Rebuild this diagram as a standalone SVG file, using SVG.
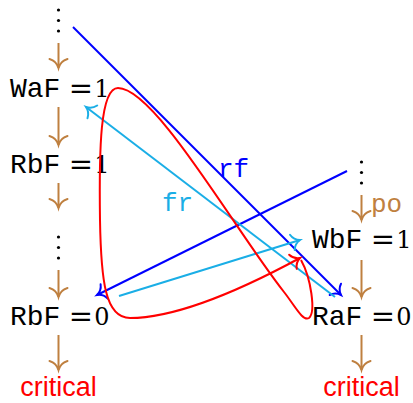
<svg xmlns="http://www.w3.org/2000/svg" width="413" height="403" viewBox="0 0 413 403">
<defs>
<style>
.tt{font-family:"Liberation Mono","DejaVu Sans Mono",monospace;font-size:28px;fill:#000}
.rm{font-family:"DejaVu Serif","Liberation Serif",serif;font-size:24px;fill:#000;text-anchor:middle}
.eq{font-family:"DejaVu Serif","Liberation Serif",serif;font-size:29px;fill:#000;text-anchor:middle}
.lab{font-family:"Liberation Mono","DejaVu Sans Mono",monospace;font-size:26px}
.crit{font-family:"Liberation Sans","DejaVu Sans",sans-serif;font-size:27px;fill:#ff0000;text-anchor:middle}
.po{stroke:#bf8040;stroke-width:2;fill:none;marker-end:url(#mBrown)}
.e{fill:none;stroke-width:2}
.blue{stroke:#0000ff;marker-end:url(#mBlue)}
.cyan{stroke:#1aaee6;marker-end:url(#mCyan)}
.red{stroke:#ff0000;marker-end:url(#mRed)}
.dot{fill:#000}
</style>
<marker id="mBrown" markerUnits="userSpaceOnUse" orient="auto" markerWidth="24" markerHeight="24" refX="0" refY="0" viewBox="-12 -12 24 24" overflow="visible"><path d="M -9,-9 Q -7,-2 0,0 Q -7,2 -9,9" fill="none" stroke="#bf8040" stroke-width="2" stroke-linecap="round"/></marker>
<marker id="mBlue" markerUnits="userSpaceOnUse" orient="auto" markerWidth="24" markerHeight="24" refX="0" refY="0" viewBox="-12 -12 24 24" overflow="visible"><path d="M -8,-8 Q -6,-2 0,0 Q -6,2 -8,8" fill="none" stroke="#0000ff" stroke-width="2" stroke-linecap="round"/></marker>
<marker id="mCyan" markerUnits="userSpaceOnUse" orient="auto" markerWidth="24" markerHeight="24" refX="0" refY="0" viewBox="-12 -12 24 24" overflow="visible"><path d="M -8,-8 Q -6,-2 0,0 Q -6,2 -8,8" fill="none" stroke="#1aaee6" stroke-width="2" stroke-linecap="round"/></marker>
<marker id="mRed" markerUnits="userSpaceOnUse" orient="auto" markerWidth="24" markerHeight="24" refX="0" refY="0" viewBox="-12 -12 24 24" overflow="visible"><path d="M -8,-8 Q -6,-2 0,0 Q -6,2 -8,8" fill="none" stroke="#ff0000" stroke-width="2" stroke-linecap="round"/></marker>
</defs>
<rect width="413" height="403" fill="#fff"/>

<g id="dotsL1"><circle class="dot" cx="58.5" cy="10" r="1.6"/><circle class="dot" cx="58.5" cy="20.5" r="1.6"/><circle class="dot" cx="58.5" cy="31" r="1.6"/></g>
<g id="WaF"><text class="tt" x="10" y="97">WaF</text><text class="eq" x="81" y="98">=</text><text class="rm" x="102" y="97">1</text></g>
<g id="RbF1"><text class="tt" x="10" y="173">RbF</text><text class="eq" x="81" y="174">=</text><text class="rm" x="102" y="173">1</text></g>
<g id="dotsL2"><circle class="dot" cx="58.5" cy="237" r="1.6"/><circle class="dot" cx="58.5" cy="247.5" r="1.6"/><circle class="dot" cx="58.5" cy="258" r="1.6"/></g>
<g id="RbF0"><text class="tt" x="10" y="325">RbF</text><text class="eq" x="81" y="326">=</text><text class="rm" x="102" y="325">0</text></g>
<g id="critL"><text class="crit" x="58.5" y="396">critical</text></g>

<g id="dotsR"><circle class="dot" cx="361.5" cy="162" r="1.6"/><circle class="dot" cx="361.5" cy="172.5" r="1.6"/><circle class="dot" cx="361.5" cy="183" r="1.6"/></g>
<g id="WbF"><text class="tt" x="312" y="248">WbF</text><text class="eq" x="383" y="249">=</text><text class="rm" x="404" y="248">1</text></g>
<g id="RaF"><text class="tt" x="312" y="325">RaF</text><text class="eq" x="383" y="326">=</text><text class="rm" x="404" y="325">0</text></g>
<g id="critR"><text class="crit" x="361.5" y="396">critical</text></g>

<g id="connectors">
<line class="po" x1="58.5" y1="43" x2="58.5" y2="68"/>
<line class="po" x1="58.5" y1="107" x2="58.5" y2="145"/>
<line class="po" x1="58.5" y1="183" x2="58.5" y2="208"/>
<line class="po" x1="58.5" y1="270" x2="58.5" y2="297"/>
<line class="po" x1="58.5" y1="335" x2="58.5" y2="370"/>
<line class="po" x1="361.5" y1="195" x2="361.5" y2="220"/>
<line class="po" x1="361.5" y1="260" x2="361.5" y2="297"/>
<line class="po" x1="361.5" y1="335" x2="361.5" y2="370"/>
<text class="lab" x="371" y="212" fill="#bf8040">po</text>

<line class="e blue" x1="73" y1="27" x2="341" y2="295"/>
<text class="lab" x="218" y="177" fill="#0000ff">rf</text>
<line class="e blue" x1="347" y1="171" x2="97" y2="295"/>
<line class="e cyan" x1="335" y1="297" x2="86" y2="107"/>
<text class="lab" x="162" y="211" fill="#1aaee6">fr</text>
<line class="e cyan" x1="119" y1="296" x2="300" y2="240"/>
<path class="e red" d="M 301,260 C 311,278 316,312 309,318 C 303,322 295,306 284,292 C 235,230 155,88 118,88 C 100,88 99,150 100,220 C 101,280 105,318 130,318 C 180,318 250,285 300,258"/>
</g>
</svg>
